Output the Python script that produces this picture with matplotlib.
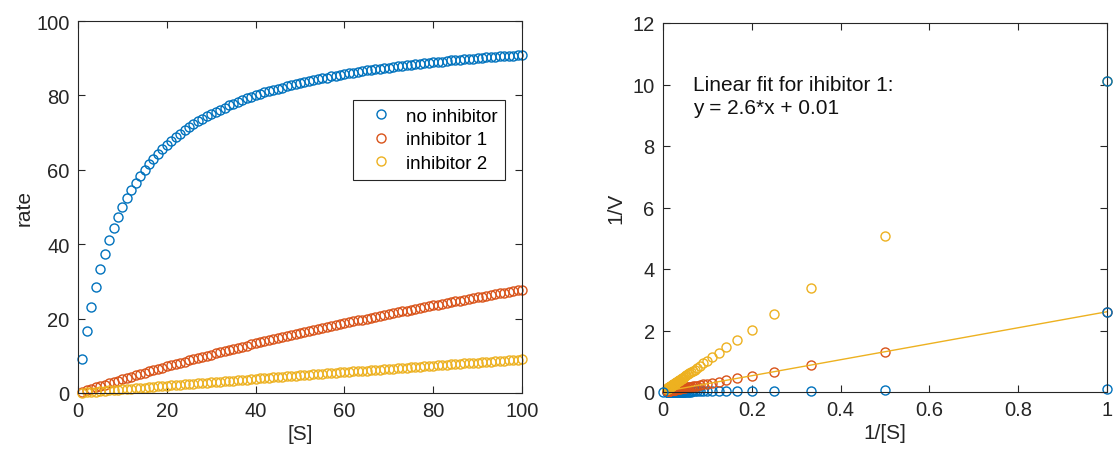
import matplotlib.pyplot as plt
import numpy as np

plt.rcParams['font.family'] = ['Liberation Sans', 'DejaVu Sans']

# substrate concentration [S]
substrate = list(range(1, 101))

rate_none = [
    9.1, 16.7, 23.1, 28.6, 33.3, 37.5, 41.2, 44.4, 47.4, 50.0,
    52.4, 54.5, 56.5, 58.3, 60.0, 61.5, 63.0, 64.3, 65.5, 66.7,
    67.7, 68.8, 69.7, 70.6, 71.4, 72.2, 73.0, 73.7, 74.4, 75.0,
    75.6, 76.2, 76.7, 77.3, 77.8, 78.3, 78.7, 79.2, 79.6, 80.0,
    80.4, 80.8, 81.1, 81.5, 81.8, 82.1, 82.5, 82.8, 83.1, 83.3,
    83.6, 83.9, 84.1, 84.4, 84.6, 84.8, 85.1, 85.3, 85.5, 85.7,
    85.9, 86.1, 86.3, 86.5, 86.7, 86.8, 87.0, 87.2, 87.3, 87.5,
    87.7, 87.8, 88.0, 88.1, 88.2, 88.4, 88.5, 88.6, 88.8, 88.9,
    89.0, 89.1, 89.2, 89.4, 89.5, 89.6, 89.7, 89.8, 89.9, 90.0,
    90.1, 90.2, 90.3, 90.4, 90.5, 90.6, 90.7, 90.7, 90.8, 90.9,
]
rate_inh1 = [
    0.383, 0.763, 1.141, 1.515, 1.887, 2.256, 2.622, 2.985, 3.346, 3.704,
    4.059, 4.412, 4.762, 5.109, 5.455, 5.797, 6.137, 6.475, 6.810, 7.143,
    7.473, 7.801, 8.127, 8.451, 8.772, 9.091, 9.408, 9.722, 10.03, 10.34,
    10.65, 10.96, 11.26, 11.56, 11.86, 12.16, 12.46, 12.75, 13.04, 13.33,
    13.62, 13.91, 14.19, 14.47, 14.75, 15.03, 15.31, 15.58, 15.86, 16.13,
    16.40, 16.67, 16.93, 17.20, 17.46, 17.72, 17.98, 18.24, 18.50, 18.75,
    19.00, 19.25, 19.50, 19.75, 20.00, 20.25, 20.49, 20.73, 20.97, 21.21,
    21.45, 21.69, 21.92, 22.16, 22.39, 22.62, 22.85, 23.08, 23.30, 23.53,
    23.75, 23.98, 24.20, 24.42, 24.64, 24.86, 25.07, 25.29, 25.50, 25.71,
    25.93, 26.14, 26.35, 26.55, 26.76, 26.97, 27.17, 27.37, 27.58, 27.78,
]
rate_inh2 = [
    0.0989, 0.1976, 0.2962, 0.3945, 0.4926, 0.5906, 0.6883, 0.7859, 0.8832, 0.9804,
    1.077, 1.174, 1.271, 1.367, 1.463, 1.559, 1.655, 1.751, 1.846, 1.942,
    2.037, 2.132, 2.227, 2.321, 2.415, 2.510, 2.604, 2.697, 2.791, 2.885,
    2.978, 3.071, 3.164, 3.257, 3.349, 3.442, 3.534, 3.626, 3.718, 3.810,
    3.901, 3.992, 4.084, 4.175, 4.265, 4.356, 4.447, 4.537, 4.627, 4.717,
    4.807, 4.896, 4.986, 5.075, 5.164, 5.253, 5.342, 5.431, 5.519, 5.607,
    5.696, 5.784, 5.871, 5.959, 6.047, 6.134, 6.221, 6.308, 6.395, 6.481,
    6.568, 6.654, 6.741, 6.827, 6.912, 6.998, 7.084, 7.169, 7.254, 7.339,
    7.424, 7.509, 7.594, 7.678, 7.763, 7.847, 7.931, 8.015, 8.098, 8.182,
    8.265, 8.348, 8.432, 8.514, 8.597, 8.680, 8.762, 8.845, 8.927, 9.009,
]
labels = ['no inhibitor', 'inhibitor 1', 'inhibitor 2']

# blue markers sitting on the frame of the right panel
edge_x = [0, 1, 1]
edge_y = [0, 2.61, 10.1]

# linear fit line for inhibitor 1
fit_x = [0, 1]
fit_y = [0.01, 2.61]
fit_text = 'Linear fit for ihibitor 1:\ny = 2.6*x + 0.01'

colors = ['#0072BD', '#D95319', '#EDB120']
txt = '#262626'

fig = plt.figure(figsize=(11.14, 4.56), dpi=100)
W, H = 1114, 456
ax1 = fig.add_axes([78 / W, 1 - 394 / H, 444 / W, 372 / H])
ax2 = fig.add_axes([663 / W, 1 - 393 / H, 444 / W, 369 / H])

mk = dict(marker='o', linestyle='none', markersize=6.5, markerfacecolor='none',
          markeredgewidth=1.0)

for rates, c, lab in zip([rate_none, rate_inh1, rate_inh2], colors, labels):
    ax1.plot(substrate, rates, color=c, label=lab, clip_on=False, **mk)

ax1.set_xlim(0, 100)
ax1.set_ylim(0, 100)
ax1.set_xticks([0, 20, 40, 60, 80, 100])
ax1.set_yticks([0, 20, 40, 60, 80, 100])
ax1.set_xlabel('[S]', fontsize=15, color=txt, labelpad=3)
ax1.set_ylabel('rate', fontsize=15, color=txt, labelpad=2)
leg = ax1.legend(loc='upper right', bbox_to_anchor=(0.962, 0.788), borderaxespad=0,
                 fontsize=13.5, fancybox=False, framealpha=1, edgecolor='#262626',
                 handletextpad=0.2, borderpad=0.42, labelspacing=0.34,
                 handlelength=2.2)
leg.get_frame().set_linewidth(0.8)

inv_s = 1.0 / np.array(substrate)
for rates, c in zip([rate_none, rate_inh1, rate_inh2], colors):
    ax2.plot(inv_s, 1.0 / np.array(rates), color=c, clip_on=False, **mk)
ax2.plot(fit_x, fit_y, color=colors[2], linewidth=1.0)
ax2.plot(edge_x, edge_y, color=colors[0], clip_on=False, zorder=5, **mk)

ax2.set_xlim(0, 1)
ax2.set_ylim(0, 12)
ax2.set_xticks([0, 0.2, 0.4, 0.6, 0.8, 1])
ax2.set_xticklabels(['0', '0.2', '0.4', '0.6', '0.8', '1'])
ax2.set_yticks([0, 2, 4, 6, 8, 10, 12])
ax2.set_xlabel('1/[S]', fontsize=15, color=txt, labelpad=3)
ax2.set_ylabel('1/V', fontsize=15, color=txt, labelpad=5)
ax2.text(0.068, 9.62, fit_text, fontsize=15, color='#111111', va='center',
         ha='left', linespacing=1.3)

for ax in (ax1, ax2):
    for sp in ax.spines.values():
        sp.set_color('#262626')
        sp.set_linewidth(0.8)
    ax.tick_params(direction='in', length=5, width=0.8, top=True, right=True,
                   labelsize=14.5, labelcolor=txt, color='#262626', pad=6)

fig.savefig('out.png', dpi=100)
